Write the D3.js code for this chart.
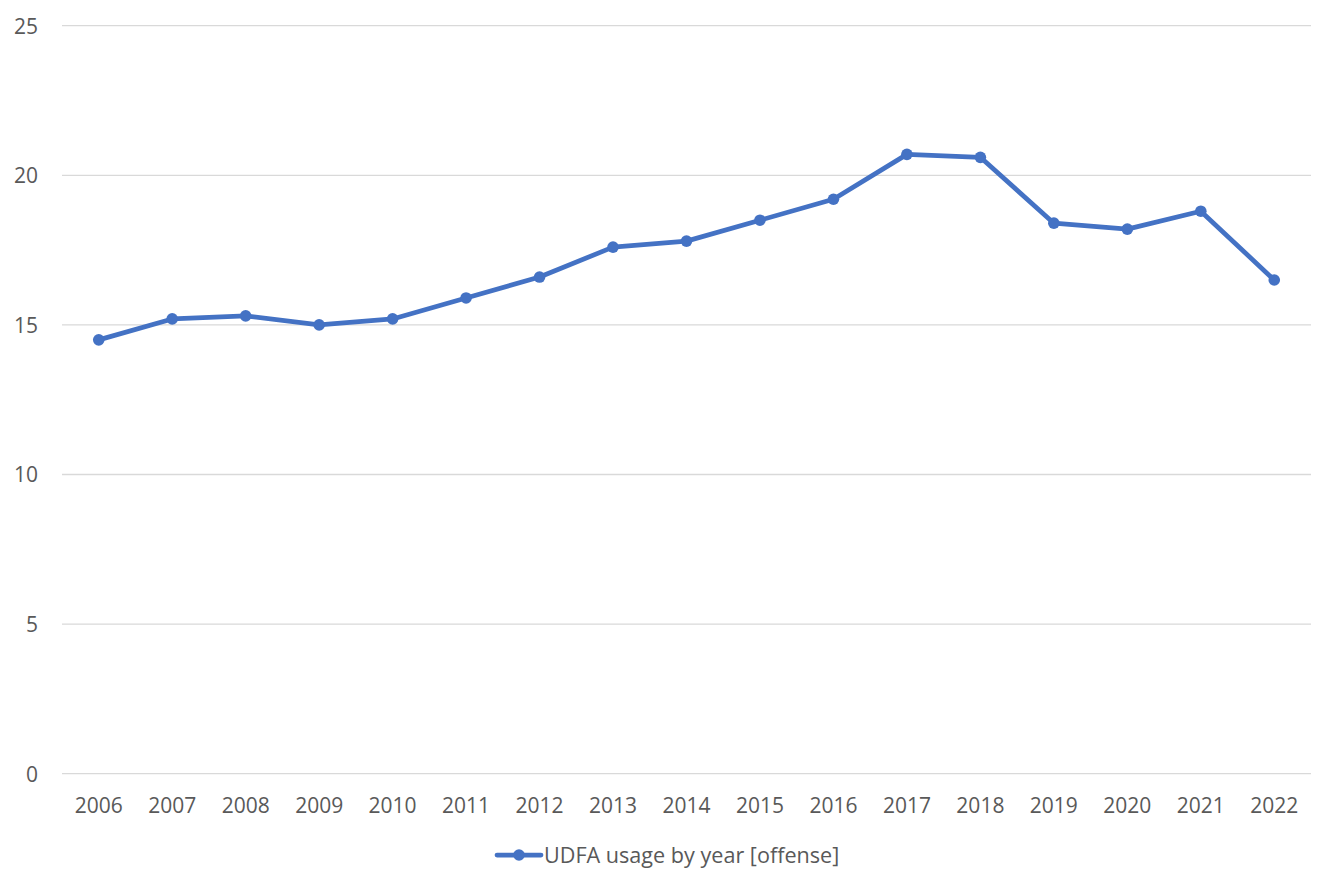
<!DOCTYPE html>
<html>
<head>
<meta charset="utf-8">
<script src="https://cdn.jsdelivr.net/npm/d3@7"></script>
<style>
  html, body { margin: 0; padding: 0; background: #fff; }
  svg { display: block; }
  text { font-family: "Open Sans", sans-serif; fill: #595959; }
</style>
</head>
<body>
<svg id="chart" width="1334" height="889"></svg>
<script>
const years = ["2006","2007","2008","2009","2010","2011","2012","2013","2014","2015","2016","2017","2018","2019","2020","2021","2022"];
const values = [14.5, 15.2, 15.3, 15.0, 15.2, 15.9, 16.6, 17.6, 17.8, 18.5, 19.2, 20.7, 20.6, 18.4, 18.2, 18.8, 16.5];
const yTicks = [0, 5, 10, 15, 20, 25];
const seriesName = "UDFA usage by year [offense]";

const svg = d3.select("#chart");
const mLeft = 62, mRight = 1311, mTop = 25.7, mBottom = 773.7;
const color = "#4472C4";

const x = d3.scaleBand().domain(years).range([mLeft, mRight]);
const y = d3.scaleLinear().domain([0, 25]).range([mBottom, mTop]);

// gridlines
svg.append("g").selectAll("line").data(yTicks).join("line")
  .attr("x1", mLeft).attr("x2", mRight)
  .attr("y1", d => y(d)).attr("y2", d => y(d))
  .attr("stroke", "#d9d9d9").attr("stroke-width", 1.3);

// y axis labels
const yAxis = d3.axisLeft(y).tickValues(yTicks).tickSize(0).tickPadding(0);
const gy = svg.append("g").attr("transform", `translate(38,0)`).call(yAxis);
gy.select(".domain").remove();
gy.selectAll("text").attr("font-size", 21).attr("font-family", "Open Sans, sans-serif").attr("fill", "#595959").attr("dy", "0.35em");

// x axis labels
const xAxis = d3.axisBottom(x).tickSize(0).tickPadding(0);
const gx = svg.append("g").attr("transform", `translate(0,${mBottom})`).call(xAxis);
gx.select(".domain").remove();
gx.selectAll("text").attr("font-size", 21).attr("font-family", "Open Sans, sans-serif").attr("fill", "#595959").attr("dy", null).attr("y", 39);

// line
const cx = d => x(d) + x.bandwidth() / 2;
const line = d3.line().x((d, i) => cx(years[i])).y(d => y(d));
svg.append("path").datum(values)
  .attr("d", line).attr("fill", "none")
  .attr("stroke", color).attr("stroke-width", 4.75)
  .attr("stroke-linejoin", "round").attr("stroke-linecap", "round");

svg.append("g").selectAll("circle").data(values).join("circle")
  .attr("cx", (d, i) => cx(years[i])).attr("cy", d => y(d))
  .attr("r", 5.8).attr("fill", color);

// legend
const lg = svg.append("g");
lg.append("line").attr("x1", 497).attr("x2", 541).attr("y1", 855).attr("y2", 855)
  .attr("stroke", color).attr("stroke-width", 4.75).attr("stroke-linecap", "round");
lg.append("circle").attr("cx", 519).attr("cy", 855).attr("r", 5.8).attr("fill", color);
lg.append("text").attr("x", 544).attr("y", 855).attr("dy", "0.35em")
  .attr("font-size", 21.6).text(seriesName);
</script>
</body>
</html>
